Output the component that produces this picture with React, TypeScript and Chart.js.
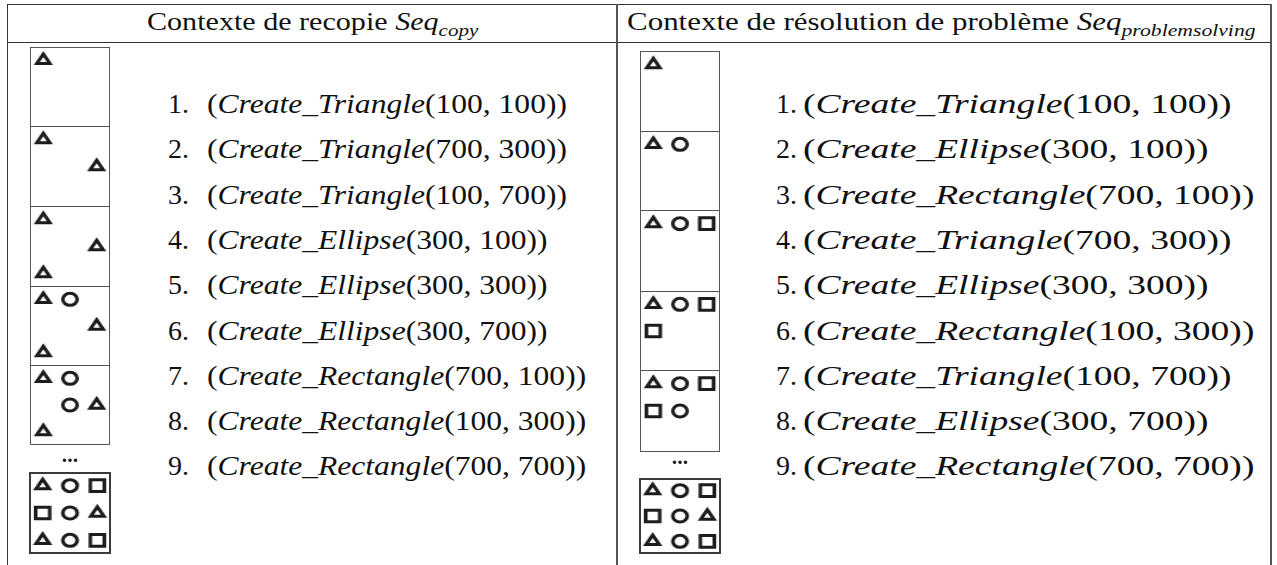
import React, { useEffect, useLayoutEffect, useRef } from 'react';
import { Chart, registerables } from 'chart.js';

Chart.register(...registerables);

// ---------------- data ----------------
const gridCoords = ['100', '300', '700'];
const shapeTypes = ['Triangle', 'Ellipse', 'Rectangle'];

const copyShapes = ['Triangle', 'Triangle', 'Triangle', 'Ellipse', 'Ellipse', 'Ellipse', 'Rectangle', 'Rectangle', 'Rectangle'];
const copyX = [100, 700, 100, 300, 300, 300, 700, 100, 700];
const copyY = [100, 300, 700, 100, 300, 700, 100, 300, 700];
const copySnapshots = [[1], [1, 2], [1, 2, 3], [1, 2, 3, 4], [1, 2, 3, 4, 5], [1, 2, 3, 4, 5, 6, 7, 8, 9]];

const problemShapes = ['Triangle', 'Ellipse', 'Rectangle', 'Triangle', 'Ellipse', 'Rectangle', 'Triangle', 'Ellipse', 'Rectangle'];
const problemX = [100, 300, 700, 700, 300, 100, 100, 300, 700];
const problemY = [100, 100, 100, 300, 300, 300, 700, 700, 700];
const problemSnapshots = [[1], [1, 2], [1, 2, 3], [1, 2, 3, 6], [1, 2, 3, 6, 5], [1, 2, 3, 4, 5, 6, 7, 8, 9]];

const copyTitle = 'Contexte de recopie';
const copySeqSub = 'copy';
const problemTitle = 'Contexte de résolution de problème';
const problemSeqSub = 'problemsolving';
const seqName = 'Seq';
const actionPrefix = 'Create_';
const ellipsisText = '...';

// ---------------- styles / layout ----------------
const FONT = "'Liberation Serif', Tinos, 'Times New Roman', 'Nimbus Roman', 'DejaVu Serif', serif";
const INK = '#1c1c1c';
const STRETCH = 1.2;
const SHAPE_STYLE: Record<string, { style: any; radius: number }> = {
  Triangle: { style: 'triangle', radius: 6.3 },
  Ellipse: { style: 'circle', radius: 6 },
  Rectangle: { style: 'rect', radius: 8.2 },
};

const columns = [
  {
    key: 'copy', title: copyTitle, sub: copySeqSub,
    shapes: copyShapes, xs: copyX, ys: copyY, snaps: copySnapshots,
    headerLeft: 146.7, headerWidth: 331,
    numX: 168, exprX: 206.7, exprW: 359.5,
    boxX: 30, stackTops: [47, 126, 206, 286, 365, 444],
    dotsX: 70, dotsY: 460.7,
    finalBox: { left: 29, top: 472, width: 82, height: 82 },
  },
  {
    key: 'problem', title: problemTitle, sub: problemSeqSub,
    shapes: problemShapes, xs: problemX, ys: problemY, snaps: problemSnapshots,
    headerLeft: 626.7, headerWidth: 628,
    numX: 776, exprX: 802.7, exprW: 428,
    boxX: 640, stackTops: [51, 131, 210, 291, 370, 451],
    dotsX: 680, dotsY: 462.7,
    finalBox: { left: 639, top: 478, width: 82, height: 76 },
  },
];

const ITEM_FIRST = 104;
const ITEM_STEP = 45.3;
const ITEM_FONT = 28;

function ShapeBox({ col, steps, left, top, width, height, border }: any) {
  const ref = useRef<HTMLCanvasElement>(null);
  const natW = Math.round(width / STRETCH);
  useEffect(() => {
    const datasets = shapeTypes.map((t) => {
      const st = SHAPE_STYLE[t];
      return {
        label: t,
        data: steps
          .filter((s: number) => col.shapes[s - 1] === t)
          .map((s: number) => ({ x: String(col.xs[s - 1]), y: String(col.ys[s - 1]) })),
        pointStyle: st.style,
        pointRadius: st.radius,
        pointHoverRadius: st.radius,
        pointBorderWidth: 3,
        pointBorderColor: INK,
        pointBackgroundColor: 'rgba(0,0,0,0)',
        borderColor: INK,
        backgroundColor: 'rgba(0,0,0,0)',
        showLine: false,
      };
    });
    const chart = new Chart(ref.current as HTMLCanvasElement, {
      type: 'scatter',
      data: { datasets } as any,
      options: {
        animation: false,
        responsive: false,
        devicePixelRatio: 1,
        events: [],
        layout: { padding: 0, autoPadding: false },
        plugins: { legend: { display: false }, tooltip: { enabled: false } },
        scales: {
          x: { type: 'category', labels: gridCoords, offset: true, display: false },
          y: { type: 'category', labels: gridCoords, offset: true, reverse: false, display: false },
        },
      } as any,
    });
    return () => chart.destroy();
  }, []);
  return (
    <div style={{ position: 'absolute', left, top, width, height }}>
      <canvas
        ref={ref}
        width={natW}
        height={height}
        style={{ position: 'absolute', left: 0, top: 0, transform: `scaleX(${width / natW})`, transformOrigin: '0 0' }}
      />
      <div style={{ position: 'absolute', left: 0, top: 0, width, height, boxSizing: 'border-box', pointerEvents: 'none', ...border }} />
    </div>
  );
}

const fitStyle: React.CSSProperties = {
  display: 'inline-block',
  whiteSpace: 'nowrap',
  transformOrigin: '0 50%',
};

export default function App() {
  const rootRef = useRef<HTMLDivElement>(null);
  useLayoutEffect(() => {
    const fit = () => {
      const root = rootRef.current;
      if (!root) return;
      root.querySelectorAll<HTMLElement>('[data-target]').forEach((el) => {
        const target = parseFloat(el.dataset.target || '0');
        const natural = el.offsetWidth;
        if (!natural) return;
        const s = target / natural;
        root.querySelectorAll<HTMLElement>(`[data-group="${el.dataset.group}"]`).forEach((g) => {
          g.style.transform = `scaleX(${s})`;
        });
      });
    };
    fit();
    const f: any = (document as any).fonts;
    if (f && f.ready) f.ready.then(fit);
  }, []);

  const line = (l: number, t: number, w: number, h: number, c: string) => (
    <div style={{ position: 'absolute', left: l, top: t, width: w, height: h, background: c }} />
  );

  return (
    <div
      ref={rootRef}
      style={{
        position: 'fixed', left: 0, top: 0, width: 1277, height: 565,
        background: '#fff', overflow: 'hidden', fontFamily: FONT, color: '#111',
      }}
    >
      {line(7, 4, 1265, 1, '#333')}
      {line(7, 42, 1265, 1, '#333')}
      {line(7, 4, 1, 561, '#333')}
      {line(616, 4, 2, 561, '#555')}
      {line(1270, 4, 2, 561, '#555')}

      {columns.map((col) => (
        <React.Fragment key={col.key}>
          {/* header */}
          <div style={{ position: 'absolute', left: col.headerLeft, top: 7, fontSize: 25, lineHeight: '30px', fontFamily: FONT }}>
            <span data-group={`h-${col.key}`} data-target={col.headerWidth} style={fitStyle}>
              {col.title} <i>{seqName}</i>
              <i style={{ fontSize: '0.7em', position: 'relative', top: '0.32em' }}>{col.sub}</i>
            </span>
          </div>

          {/* numbered commands */}
          {col.shapes.map((shape, i) => {
            const top = ITEM_FIRST + ITEM_STEP * i - 16;
            return (
              <React.Fragment key={i}>
                <div style={{ position: 'absolute', left: col.numX, top, fontSize: ITEM_FONT, lineHeight: '32px', fontFamily: FONT }}>
                  <span style={fitStyle}>{`${i + 1}.`}</span>
                </div>
                <div style={{ position: 'absolute', left: col.exprX, top, fontSize: ITEM_FONT, lineHeight: '32px', fontFamily: FONT }}>
                  <span
                    data-group={`i-${col.key}`}
                    {...(i === 0 ? { 'data-target': col.exprW } : {})}
                    style={fitStyle}
                  >
                    (<i>{actionPrefix + shape}</i>({col.xs[i]}, {col.ys[i]}))
                  </span>
                </div>
              </React.Fragment>
            );
          })}

          {/* snapshot boxes */}
          {col.snaps.slice(0, 5).map((steps, b) => {
            const top = col.stackTops[b];
            const h = col.stackTops[b + 1] - top + 1;
            const border: React.CSSProperties = {
              borderTop: '1px solid #555',
              borderLeft: '1px solid #555',
              borderRight: '1px solid #555',
              borderBottom: b === 4 ? '1px solid #555' : 'none',
            };
            return (
              <ShapeBox key={b} col={col} steps={steps} left={col.boxX} top={top} width={80} height={h} border={border} />
            );
          })}

          <div
            style={{
              position: 'absolute', left: col.dotsX - 20, top: col.dotsY - 16, width: 40,
              textAlign: 'center', fontSize: 22, fontWeight: 'bold', lineHeight: '20px', color: '#222', fontFamily: FONT,
            }}
          >
            {ellipsisText}
          </div>

          <ShapeBox
            col={col}
            steps={col.snaps[5]}
            left={col.finalBox.left}
            top={col.finalBox.top}
            width={col.finalBox.width}
            height={col.finalBox.height}
            border={{ border: '2px solid #3a3a3a' }}
          />
        </React.Fragment>
      ))}
    </div>
  );
}
